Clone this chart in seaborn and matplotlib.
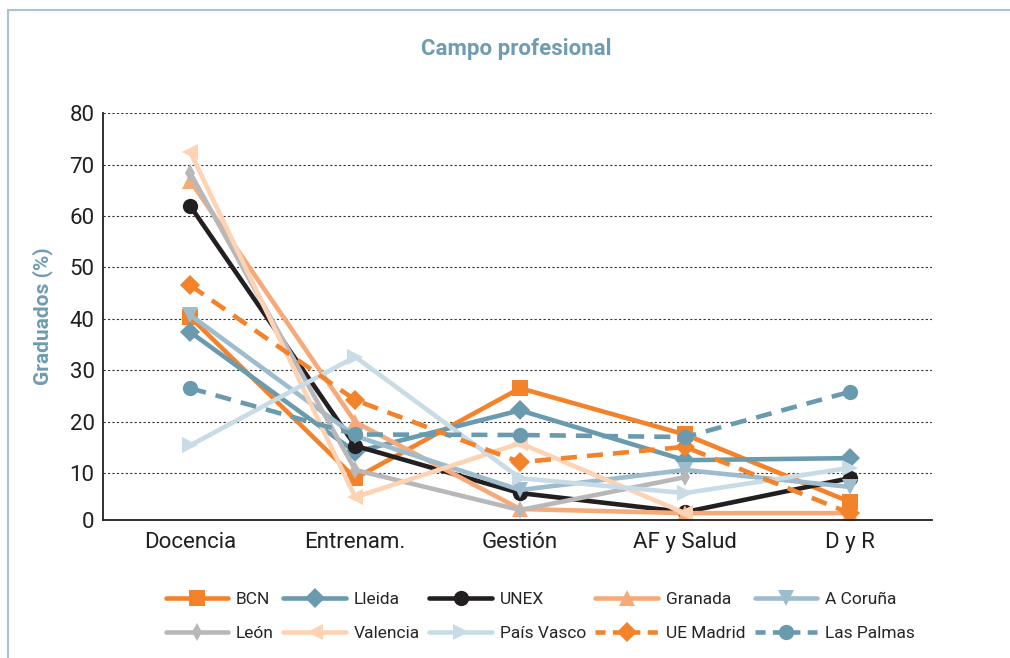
import numpy as np
import pandas as pd
import matplotlib
matplotlib.use("Agg")
import matplotlib.pyplot as plt
from matplotlib.lines import Line2D
import seaborn as sns

categories = ["Docencia", "Entrenam.", "Gestión", "AF y Salud", "D y R"]
series_names = ["BCN", "Lleida", "UNEX", "Granada", "A Coruña",
                "León", "Valencia", "País Vasco", "UE Madrid", "Las Palmas"]
bcn        = [40.3, 9.0, 26.5, 17.5, 4.4]
lleida     = [37.4, 14.1, 22.2, 12.5, 12.9]
unex       = [61.9, 15.3, 6.1, 2.4, 9.0]
granada    = [66.8, 19.9, 3.0, 2.2, 2.2]
a_coruna   = [40.7, 17.2, 6.7, 10.6, 7.3]
leon       = [68.3, 10.6, 2.8, 9.2, np.nan]
valencia   = [72.4, 5.3, 15.8, 2.2, np.nan]
pais_vasco = [15.4, 32.6, 9.0, 6.1, 11.0]
ue_madrid  = [46.5, 24.2, 12.1, 15.1, 2.2]
las_palmas = [26.5, 17.5, 17.4, 17.0, 25.8]
y_ticks = [0, 10, 20, 30, 40, 50, 60, 70, 80]

values = [bcn, lleida, unex, granada, a_coruna, leon, valencia, pais_vasco, ue_madrid, las_palmas]
colors = ["#F3832B", "#6A9AAE", "#231F20", "#F7AA79", "#9DBCCD",
          "#B8B8BA", "#FDD3B4", "#C9DBE5", "#F3832B", "#6A9AAE"]
markers = ["s", "D", "o", "^", "v", "d", "<", ">", "D", "o"]
msizes = [11, 10, 11, 11, 11, 9, 12, 12, 10, 11]
dashed = [False] * 8 + [True, True]

rows = []
for name, vals in zip(series_names, values):
    for i, v in enumerate(vals):
        rows.append({"serie": name, "x": i, "y": v})
df = pd.DataFrame(rows)

sns.set_style("white")
plt.rcParams['font.family'] = ['Roboto', 'DejaVu Sans']

fig = plt.figure(figsize=(10.1, 6.58), dpi=100)
ax = fig.add_axes([0.102, 0.21, 0.821, 0.618])

title_col = "#6E9CB0"
for i, name in enumerate(series_names):
    d = df[df["serie"] == name].dropna()
    kw = dict(color=colors[i], linewidth=3.3, marker=markers[i], markersize=msizes[i],
              markeredgewidth=0, ax=ax, label=name, legend=False)
    sns.lineplot(data=d, x="x", y="y", **kw)
    ln = ax.lines[-1]
    if dashed[i]:
        ln.set_dashes((3.5, 2.2))
    ln.set_solid_capstyle("butt")

ax.set_xlim(-0.53, 4.5)
ax.set_ylim(0.9, 80)
tick_pos = [0.9] + y_ticks[1:]
ax.set_yticks(tick_pos)
ax.set_yticklabels([str(t) for t in y_ticks], fontsize=16, color="#231F20")
ax.set_xticks(range(len(categories)))
ax.set_xticklabels(categories, fontsize=16, color="#231F20")
ax.set_xticks([0.5, 1.5, 2.5, 3.5, 4.5], minor=True)
ax.tick_params(axis="x", which="major", length=0, pad=9)
ax.tick_params(axis="x", which="minor", direction="in", length=8, width=1.2, color="#231F20")
ax.tick_params(axis="y", length=0, pad=6)
for t in y_ticks[1:]:
    ax.axhline(t, color="#333333", linewidth=0.8, linestyle=(0, (2, 2)), zorder=0)
ax.set_xlabel("")
ax.set_ylabel("Graduados (%)", fontsize=15, fontweight="bold", color=title_col, labelpad=12)
for s in ["top", "right"]:
    ax.spines[s].set_visible(False)
for s in ["left", "bottom"]:
    ax.spines[s].set_color("#231F20")
    ax.spines[s].set_linewidth(1.3)

fig.text(0.511, 0.925, "Campo profesional", ha="center", va="center",
         fontsize=16, fontweight="bold", color=title_col)

# legend (column-major order to get row layout)
handles = {}
for i, name in enumerate(series_names):
    h = Line2D([], [], color=colors[i], linewidth=3.3, marker=markers[i], markersize=msizes[i],
               markeredgewidth=0)
    if dashed[i]:
        h.set_dashes((2.2, 1.6))
    handles[name] = h
order = []
for c in range(5):
    order.append(series_names[c])
    order.append(series_names[c + 5])
leg = fig.legend([handles[n] for n in order], order, loc="center", ncol=5,
                 bbox_to_anchor=(0.535, 0.063), frameon=False, fontsize=12.5,
                 handlelength=3.6, columnspacing=0.55, handletextpad=0.45, labelspacing=1.05)

# frame border
border = "#A8C4D4"
fig.add_artist(Line2D([0.008, 0.008], [0.0, 0.985], color=border, linewidth=1.5, transform=fig.transFigure))
fig.add_artist(Line2D([0.008, 1.0], [0.985, 0.985], color=border, linewidth=1.5, transform=fig.transFigure))

fig.savefig("out.png", dpi=100)
